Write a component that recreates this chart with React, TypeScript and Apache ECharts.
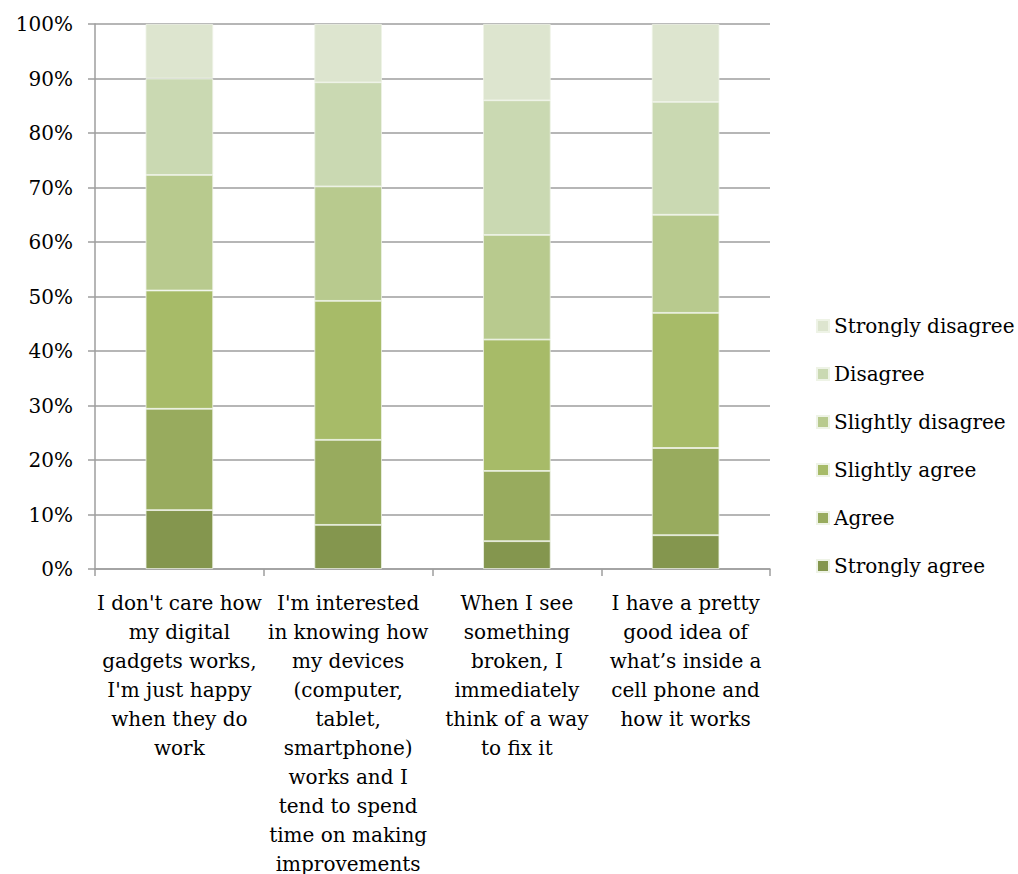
import React, { useEffect, useRef } from "react";
import * as echarts from "echarts";

const categories = [
  "I don't care how\nmy digital\ngadgets works,\nI'm just happy\nwhen they do\nwork",
  "I'm interested\nin knowing how\nmy devices\n(computer,\ntablet,\nsmartphone)\nworks and I\ntend to spend\ntime on making\nimprovements",
  "When I see\nsomething\nbroken, I\nimmediately\nthink of a way\nto fix it",
  "I have a pretty\ngood idea of\nwhat’s inside a\ncell phone and\nhow it works",
];

const stronglyAgree = [10.8, 8.1, 5.1, 6.2];
const agree = [18.6, 15.6, 12.9, 16.0];
const slightlyAgree = [21.7, 25.5, 24.1, 24.8];
const slightlyDisagree = [21.2, 21.0, 19.2, 18.0];
const disagree = [17.7, 19.1, 24.7, 20.7];
const stronglyDisagree = [10.0, 10.7, 14.0, 14.3];

const seriesNames = [
  "Strongly agree",
  "Agree",
  "Slightly agree",
  "Slightly disagree",
  "Disagree",
  "Strongly disagree",
];
const seriesData = [stronglyAgree, agree, slightlyAgree, slightlyDisagree, disagree, stronglyDisagree];
const colors = ["#84964e", "#98ab5e", "#a7bb68", "#b8ca8e", "#cad9b2", "#dde5cf"];

const FONT = "DejaVu Serif";
const FS = 20;

export default function App() {
  const ref = useRef<HTMLDivElement>(null);
  useEffect(() => {
    document.body.style.margin = "0";
    document.body.style.overflow = "hidden";
    const chart = echarts.init(ref.current!, null, { renderer: "svg" });
    chart.setOption({
      animation: false,
      backgroundColor: "#ffffff",
      grid: { left: 95, right: 248, top: 24, bottom: 305, containLabel: false, outerBoundsMode: "none" },
      legend: {
        orient: "vertical",
        left: 816,
        top: 316,
        padding: 0,
        itemWidth: 12,
        itemHeight: 12,
        itemGap: 28,
        icon: "rect",
        data: [...seriesNames].reverse(),
        textStyle: { fontFamily: FONT, fontSize: FS, color: "#000", lineHeight: 20 },
      },
      xAxis: {
        type: "category",
        data: categories,
        axisLine: { lineStyle: { color: "#9e9e9e", width: 1.5 } },
        axisTick: { show: true, length: 7, lineStyle: { color: "#9e9e9e", width: 1.5 } },
        axisLabel: {
          interval: 0,
          fontFamily: FONT,
          fontSize: FS,
          color: "#000",
          lineHeight: 29,
          margin: 19,
        },
      },
      yAxis: {
        type: "value",
        min: 0,
        max: 100,
        interval: 10,
        axisLine: { show: true, lineStyle: { color: "#9e9e9e", width: 1.5 } },
        axisTick: { show: true, length: 7, lineStyle: { color: "#9e9e9e", width: 1.5 } },
        splitLine: { lineStyle: { color: "#9e9e9e", width: 1.5 } },
        axisLabel: {
          formatter: "{value}%",
          fontFamily: FONT,
          fontSize: FS,
          color: "#000",
          margin: 22,
        },
      },
      series: seriesNames.map((name, i) => ({
        name,
        type: "bar",
        stack: "total",
        barWidth: "40%",
        data: seriesData[i],
        itemStyle: { color: colors[i], borderColor: "#eef3e6", borderWidth: 0.8 },
      })),
    });
    return () => chart.dispose();
  }, []);
  return <div ref={ref} style={{ width: 1018, height: 874 }} />;
}
